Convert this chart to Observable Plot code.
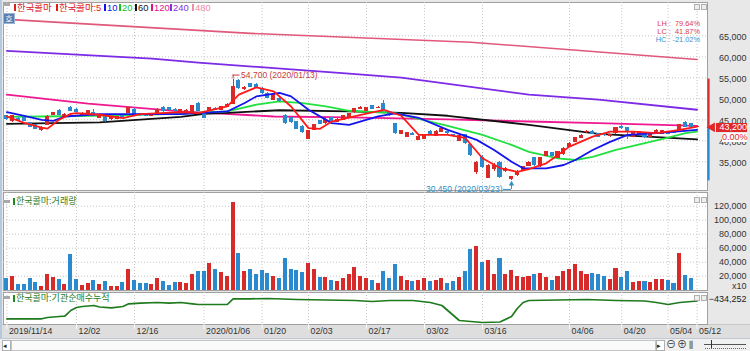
<!DOCTYPE html>
<html><head><meta charset="utf-8">
<script src="https://cdn.jsdelivr.net/npm/d3@7"></script>
<script src="https://cdn.jsdelivr.net/npm/@observablehq/plot@0.6"></script>
<style>
body{margin:0;background:#fff;}
#wrap{position:relative;width:750px;height:351px;overflow:hidden;background:#e8e8e8;font-family:"Liberation Sans","Noto Sans CJK KR",sans-serif;}
#wrap div{position:absolute;white-space:pre;}
</style></head><body><div id="wrap"></div>
<script>
// ---------- data ----------
const tickIdx = [0,12,22,34,44,52,62,72,82,97,106,114,119];
const tickLabels = ["2019/11/14","12/02","12/16","2020/01/06","01/20","02/03","02/17","03/02","03/16","04/06","04/20","05/04","05/12"];
const priceTicks = [35000,40000,45000,50000,55000,60000,65000];
const volTicks = [20000,40000,60000,80000,100000,120000];

const open = [45800,44600,45300,45400,44200,43650,42550,43800,46200,47000,45700,47800,47400,46200,46350,46600,45400,45550,45100,45250,
45800,46600,47400,46300,46200,45900,46600,47800,47700,47400,47000,46800,46850,48750,46400,47150,47600,47450,48100,48750,
54150,52300,53500,53300,52400,51150,49800,50000,45800,45400,44450,43400,40450,42600,44600,44200,45400,44450,45000,45550,
46800,47600,47150,48350,47700,48750,46800,43950,41600,41000,41700,40200,40450,42200,41250,42050,42100,41300,39950,41400,
39000,32650,35850,31200,33400,34600,32700,30900,31850,33000,34100,35800,33950,36450,37000,36000,36800,38600,39800,40750,
42000,42200,41600,41500,41100,41800,43200,43000,41000,41700,41600,41000,41650,41600,42100,42200,42600,44200,44000,43200];
const high = [46100,46000,45500,45600,44400,43900,43300,46000,46800,47400,46400,48050,47600,46700,47200,47400,46000,45700,45600,45800,
46000,48000,47600,46500,46400,46500,47600,48200,48000,47700,47500,47400,48400,49200,46600,48000,47900,48100,48800,54700,
54500,53000,53700,53600,52600,51400,51000,50200,46200,45600,44600,43600,42500,44000,44800,45200,45600,45200,46000,46600,
47800,48100,48000,48500,48100,49500,47000,44200,42500,42000,42000,41200,41400,42500,42400,43100,42300,41500,41400,41600,
39300,35000,36600,34300,34500,35000,33600,31600,32900,34000,35000,36000,36100,37500,37300,37500,38300,39500,40900,41500,
42400,42400,41800,41700,41500,43200,43800,43200,42000,42200,41900,41600,42600,42500,42300,42500,44000,44600,44200,43200];
const low = [44900,44400,44600,44500,43200,42700,42300,43600,46000,46000,45600,47000,46700,46000,46200,45700,45300,44400,44900,45100,
45500,46400,46000,45900,45800,45800,46500,46800,47100,47000,46800,46600,46700,47000,45300,47000,47200,47300,47900,48600,
52300,51900,52700,52400,51100,50000,49600,49200,44000,44200,42600,41800,40300,42400,43800,44000,44600,44300,44900,45400,
46600,47400,47000,47400,47600,47200,45900,41600,41400,40800,41300,40000,40300,41400,41100,41900,41600,40900,39800,39200,
36300,32000,33500,31000,32800,31000,32400,30450,31600,32800,33800,34000,33700,36200,36200,35800,36600,38400,39600,40600,
41800,41400,40800,41100,40900,41600,42700,40400,40800,41500,40600,40800,41500,41400,41500,41700,42400,43200,42900,43200];
const close = [45150,45800,44800,44750,43400,42850,43150,45700,46600,46200,46200,47150,46850,46500,47000,45800,45800,44600,45400,45600,
45600,47800,46200,46100,45900,46200,47400,47000,47300,47200,47300,47200,48200,47150,45500,47800,47350,47950,48600,52700,
52600,52500,52900,52600,51300,50200,50800,49400,44200,44450,42850,42050,42350,43800,43950,45000,44750,45000,45800,46350,
47600,47900,47800,47550,47900,47400,46100,41800,42350,41800,41500,41000,41250,41600,42200,42850,41800,41100,41250,39400,
36600,34650,33850,34050,34100,31300,33300,31300,32600,33650,34700,34250,35850,37250,36450,37250,38050,39200,40600,41250,
42150,41600,41000,41300,41300,43000,43000,42350,41800,42000,40800,41400,42350,42350,41700,41900,43800,43400,43200,43200];
const volume = [17100,19600,7700,8600,16300,11400,5300,22000,18100,15300,8600,51000,14800,7100,9600,13900,8600,12900,4900,5700,
11400,29100,13900,10000,9600,8100,16700,12900,7100,10600,11400,9600,22400,26300,26300,38600,30000,25700,20000,125700,
52400,27100,30000,22000,28000,24000,20000,16000,45000,30000,28000,25000,38000,30000,18000,18000,14000,12000,16000,22000,
32000,20000,16000,14000,10000,26000,16000,36000,20000,14000,12000,14000,16000,12000,14000,16000,10000,12000,18000,26000,
58000,62000,40000,42000,22000,45000,22000,28000,20000,18000,20000,22000,24000,18000,14000,20000,26000,30000,36000,26000,
22000,24000,22400,19600,14800,31400,17700,26700,11400,12900,12400,11400,14800,14800,13400,10000,52000,21000,16300,0];

const ma5 = [[0,45790],[3,44280],[6,43160],[7,42900],[9,45000],[11,46400],[12,46600],[16,46200],[20,45410],[23,46360],[30,46840],[33,46600],[38,48180],[40,50980],[43,52730],[46,51770],[49,48180],[52,43010],[54,42850],[56,44590],[61,46200],[65,47390],[68,45960],[71,41410],[76,41410],[79,40690],[82,35840],[85,33520],[88,32630],[90,33280],[93,34640],[97,38610],[101,41000],[104,42200],[108,42200],[112,41820],[116,42610],[119,43400]];
const ma10 = [[0,46840],[3,45960],[6,45000],[8,44760],[10,45790],[16,46360],[30,46360],[38,46990],[41,48990],[43,50570],[47,51390],[49,50570],[52,47390],[56,44210],[59,43800],[64,45790],[67,46550],[71,45480],[76,42610],[81,40220],[84,37820],[87,35030],[89,33450],[93,33450],[96,34240],[98,35430],[101,37820],[104,39740],[107,41410],[112,41820],[119,42610]];
const ma20 = [[0,45720],[9,45840],[20,46080],[29,46440],[38,46990],[43,48590],[47,49380],[51,48990],[55,48180],[59,47150],[67,46600],[71,45240],[76,43560],[82,41410],[87,39020],[90,37350],[95,35840],[98,35430],[101,36150],[105,37820],[110,39430],[114,40770],[117,41820],[119,42200]];
const ma60 = [[0,44040],[16,44400],[30,45720],[34,46440],[38,46670],[47,47270],[59,47030],[68,46670],[76,45960],[90,43800],[102,41650],[119,40340]];
const ma120 = [[0,50980],[14,48830],[30,46990],[46,45790],[59,45600],[76,45120],[90,44590],[102,44210],[119,43560]];
const ma240 = [[0,61390],[25,59590],[33,58630],[59,56000],[68,55050],[90,51000],[102,49780],[119,47390]];
const ma480 = [[0,68920],[42,65570],[80,63480],[119,59350]];

const instIdx = [0,6,7,9,10,11,12,13,15,16,18,20,21,23,26,28,30,32,33,38,39,42,45,50,55,60,63,66,70,73,75,77,78,80,82,85,87,88,89,90,95,100,105,110,112,114,116,118,119];
const instVal = [-879000,-879000,-847000,-822000,-814000,-672000,-597000,-572000,-547000,-584000,-604000,-572000,-504000,-489000,-472000,-489000,-472000,-504000,-522000,-522000,-379000,-379000,-372000,-397000,-409000,-422000,-447000,-422000,-422000,-472000,-547000,-797000,-922000,-947000,-972000,-959000,-822000,-622000,-472000,-422000,-409000,-397000,-422000,-434000,-472000,-522000,-472000,-447000,-434252];

const highPt = {i:39, p:54700, t:"54,700 (2020/01/13)"};
const lowPt = {i:87, p:30450, t:"30,450 (2020/03/23)"};
const current = {i:119, p:43200, lo:30450, hi:54700};
const stats = [["LH :  79.64%","#e03c3c"],["LC :  41.87%","#e03c3c"],["HC : -21.02%","#3a8fd0"]];

const legendNames = ["한국콜마","한국콜마:5","10","20","60","120","240","480"];
const legendColors = ["#d82020","#e01818","#1010e8","#10c030","#111111","#e0108a","#8030e0","#f08ca8"];

// ---------- styles ----------
const RED = "#d92a2a", BLUE = "#2a8ad0";
const col = d => d.c > d.o ? RED : d.c < d.o ? BLUE : RED;
const maColors = {m5:"#ff1a1a", m10:"#1414f0", m20:"#22e040", m60:"#111111", m120:"#ee1890", m240:"#7c2ae6", m480:"#e0587a"};
const grid = {stroke:"#c4c4c4", strokeDasharray:"1 2", strokeWidth:1};
const fmt = d3.format(",");
const X = {domain:[-0.586, 120.79], axis:null};
const common = {width:750, marginLeft:3, marginRight:43, x:X, color:{type:"identity"},
  style:{background:"none", overflow:"visible", fontFamily:"Liberation Sans, Noto Sans CJK KR, sans-serif"}};

const candles = d3.range(open.length).map(i => ({i, o:open[i], h:high[i], l:low[i], c:close[i], v:volume[i]}));
const line = (data, stroke, w=1.8) => Plot.line(data, {x:d=>d[0], y:d=>d[1], stroke, strokeWidth:w});

// ---------- main price panel ----------
const main = Plot.plot({...common, height:191, marginTop:2, marginBottom:1,
  y:{domain:[28167,72929], axis:null},
  marks:[
    Plot.frame({fill:"white", stroke:"#a0a0a0"}),
    Plot.ruleY(priceTicks, grid),
    Plot.ruleX(tickIdx, grid),
    line(ma480, maColors.m480, 1.6),
    line(ma240, maColors.m240),
    line(ma120, maColors.m120),
    line(ma60, maColors.m60),
    line(ma20, maColors.m20),
    Plot.ruleX(candles, {x:"i", y1:"l", y2:"h", stroke:col, shapeRendering:"crispEdges"}),
    Plot.rect(candles, {x1:d=>d.i-0.36, x2:d=>d.i+0.36, y1:"o", y2:"c", fill:col, insetTop:-0.5, insetBottom:-0.5, shapeRendering:"crispEdges"}),
    line(ma10, maColors.m10),
    line(ma5, maColors.m5),
    Plot.ruleX([highPt], {x:"i", y1:"p", y2:"p", insetTop:-4, stroke:"#c83c3c"}),
    Plot.ruleY([highPt], {y:"p", x1:"i", x2:d=>d.i+1.2, dy:-4, stroke:"#c83c3c"}),
    Plot.text([highPt], {x:"i", y:"p", text:"t", dx:8, dy:-4, textAnchor:"start", fill:"#c83c3c", fontSize:8.5}),
    Plot.ruleX([lowPt], {x:"i", y1:"p", y2:"p", insetTop:2, insetBottom:-8.5, stroke:"#3090c8"}),
    Plot.ruleY([lowPt], {y:"p", x1:d=>d.i-1.4, x2:"i", dy:8.5, stroke:"#3090c8"}),
    Plot.dot([lowPt], {x:"i", y:"p", dy:3, symbol:"triangle", r:2, fill:"#3090c8", stroke:null}),
    Plot.text([lowPt], {x:"i", y:"p", text:"t", dx:-9, dy:8, textAnchor:"end", fill:"#3090c8", fontSize:8.5}),
    Plot.text(priceTicks, {y:d=>d, text:d=>fmt(d), frameAnchor:"right", dx:39, dy:1, textAnchor:"end", fill:"#333", fontSize:9}),
    Plot.ruleX([current], {x:"i", y1:"p", y2:"hi", dx:11.4, stroke:"#d83030", strokeWidth:2.2}),
    Plot.ruleX([current], {x:"i", y1:"lo", y2:"p", dx:11.4, stroke:"#2a8ad0", strokeWidth:2.2}),
    Plot.dot([current], {x:"i", y:"p", dx:15, symbol:"triangle", rotate:-90, r:3.6, fill:"#e02828", stroke:null})
  ]});

// ---------- volume panel ----------
const vol = Plot.plot({...common, height:100, marginTop:1, marginBottom:1,
  y:{domain:[-430,139570], axis:null},
  marks:[
    Plot.frame({fill:"white", stroke:"#a0a0a0"}),
    Plot.ruleY(volTicks, grid),
    Plot.ruleX(tickIdx, grid),
    Plot.rect(candles, {x1:d=>d.i-0.36, x2:d=>d.i+0.36, y1:0, y2:"v", fill:col, shapeRendering:"crispEdges"}),
    Plot.text(volTicks, {y:d=>d, text:d=>fmt(d), frameAnchor:"right", dx:39, dy:0, textAnchor:"end", fill:"#333", fontSize:9}),
    Plot.text(["x10"], {y:0, text:d=>d, frameAnchor:"right", dx:39, dy:-4, textAnchor:"end", fill:"#333", fontSize:9})
  ]});

// ---------- institutional cumulative panel + date axis ----------
const inst = Plot.plot({...common, height:47, marginTop:1, marginBottom:14,
  y:{domain:[-1021752,-221752], axis:null},
  marks:[
    Plot.frame({fill:"white", stroke:"#a0a0a0"}),
    Plot.ruleX(tickIdx, grid),
    Plot.line(instIdx.map((d,k)=>[d,instVal[k]]), {x:d=>d[0], y:d=>d[1], stroke:"#1d7a1d", strokeWidth:1.7}),
    Plot.text([instVal[instVal.length-1]], {y:d=>d, text:d=>fmt(d), frameAnchor:"right", dx:39, dy:-1.5, textAnchor:"end", fill:"#222", fontSize:9}),
    Plot.ruleX(tickIdx, {x:d=>d, y1:-1021752, y2:-1021752, insetBottom:-5, stroke:"#fafafa"}),
    Plot.text(tickIdx, {x:d=>d, text:(d,k)=>tickLabels[k], frameAnchor:"bottom", dy:9, dx:2, textAnchor:"start", fill:"#333", fontSize:8.8})
  ]});

// ---------- assemble ----------
const wrap = document.getElementById("wrap");
function place(el, top){ el.style.position="absolute"; el.style.left="0px"; el.style.top=top+"px"; wrap.appendChild(el); }
const strip = document.createElement("div");
strip.style.cssText = "left:0;top:324px;width:750px;height:14px;background:#dedede;border-top:1px solid #c8c8c8;";
wrap.appendChild(strip);
place(main, 0); place(vol, 191); place(inst, 291);

function box(css){ const d=document.createElement("div"); d.style.cssText=css; wrap.appendChild(d); return d; }
function label(text, x, y, color, size, anchor="start", lh=size+2, extra=""){
  const d = box(`font-size:${size}px;line-height:${lh}px;height:${lh}px;color:${color};top:${y-lh/2}px;` +
    (anchor==="end" ? `right:${750-x}px;` : `left:${x}px;`) + extra);
  d.textContent = text; return d;
}
box("left:0;top:0;width:2px;height:338px;background:#b4c8e0;");
[3,200,296].forEach(t=>{ box(`left:3px;top:${t}px;width:7px;height:3px;background:#a8a8a8;`); });
[4,197,295].forEach(t=>{
  box(`left:694px;top:${t}px;width:4px;height:4px;border:1px solid #b0b0b0;background:#eee;`);
  box(`left:701px;top:${t}px;width:4px;height:4px;border:1px solid #b0b0b0;background:#eee;`);
});
const legX = [17,59,107,122,138,154,173,195];
legendNames.forEach((n,k)=>{
  box(`left:${legX[k]-3}px;top:3.5px;width:2px;height:7px;background:${legendColors[k]};`);
  label(n, legX[k], 7.3, legendColors[k], 9.4);
});
const ho = box("left:3px;top:12.5px;width:10px;height:9px;background:#5a7fae;border:1px solid #9ab4d4;color:#fff;font-size:8px;line-height:9px;text-align:center;font-family:'Noto Sans CJK KR';");
ho.textContent = "호";
stats.forEach(([t,c],k)=>label(t, 700, 24 + k*7.8, c, 7.4, "end", 7.6));
box("left:13px;top:198px;width:2px;height:7px;background:#1d8a1d;");
label("한국콜마:거래량", 16, 201.7, "#1d7a1d", 9);
box("left:13px;top:294.5px;width:2px;height:7px;background:#1d8a1d;");
label("한국콜마:기관순매수누적", 16, 298.3, "#1d7a1d", 9);
const yC = main.scale("y").apply(current.p);
const pb = box(`left:716px;top:${yC-3.5}px;width:31px;height:9px;background:#e02828;color:#fff;font-size:9px;line-height:9px;text-align:right;`);
pb.textContent = fmt(current.p);
const cb = box(`left:722px;top:${yC+6.5}px;width:25px;height:9px;background:#fff;color:#e02828;font-size:9px;line-height:9px;text-align:right;`);
cb.textContent = "0.00%";
box("left:0;top:338px;width:750px;height:13px;background:#f0f0f0;border-top:1px solid #c0c8d4;");
box("left:2px;top:340px;width:7px;height:9px;background:#fff;border:1px solid #b0b0b0;");
label("◂", 3, 345, "#222", 7);
box("left:11px;top:340px;width:643px;height:9px;background:#fafafa;border:1px solid #c4c4c4;");
box("left:656px;top:340px;width:7px;height:9px;background:#fff;border:1px solid #b0b0b0;");
label("▸", 657, 345, "#222", 7);
label("⊖", 666, 345, "#333", 10);
label("⊕", 677, 345, "#333", 10);
label("⫼", 689, 345, "#333", 9);
box("left:704px;top:344px;width:42px;height:1px;background:#555;");
box("left:711px;top:340px;width:1px;height:8px;background:#333;");
box("left:705px;top:348px;width:41px;height:2px;border-top:1px dotted #666;");
</script></body></html>
